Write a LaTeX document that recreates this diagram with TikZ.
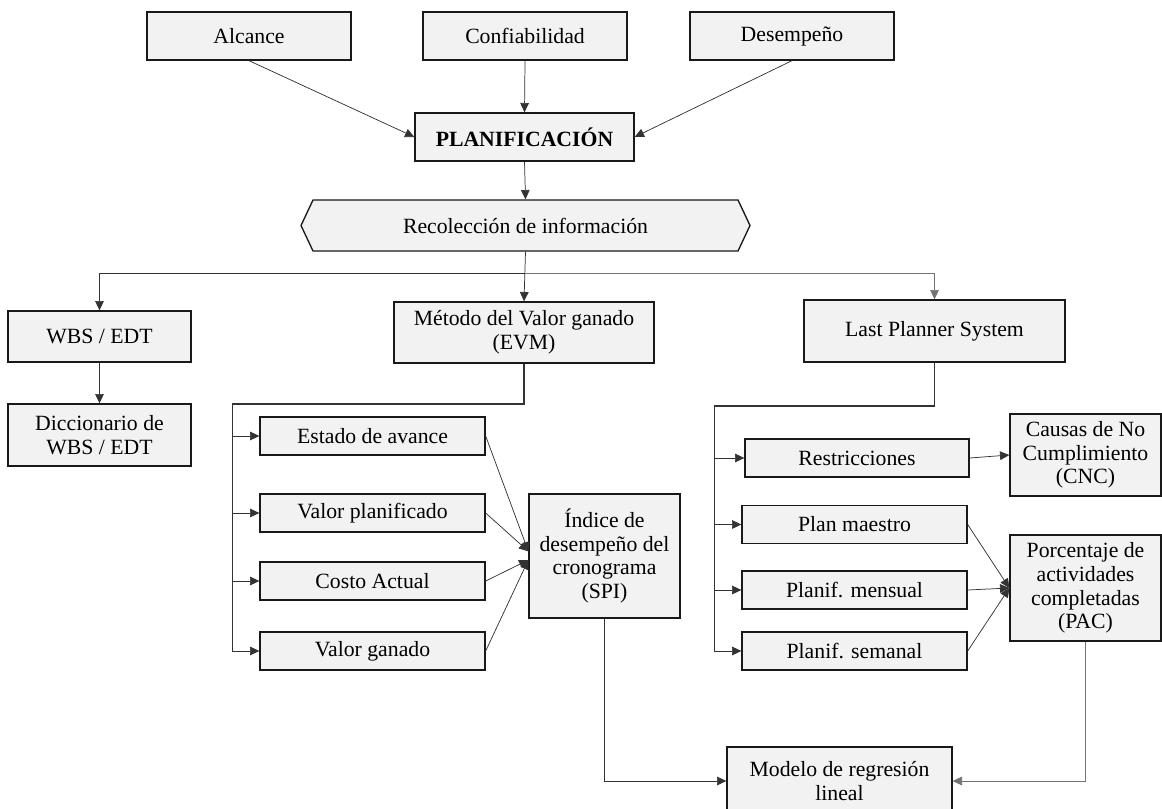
\documentclass[tikz,border=0pt]{standalone}
\usepackage{fontspec}
\setmainfont{Liberation Serif}
\usepackage{tikz}
\usetikzlibrary{arrows.meta}

\begin{document}
\begin{tikzpicture}[x=0.75pt,y=-0.75pt,
    caja/.style={draw=black!90,line width=1pt,fill=black!5,align=center,inner sep=2pt,
      font=\fontsize{16.3pt}{17.8pt}\selectfont},
    flecha/.style={draw=black!80,line width=0.55pt,-{Triangle[length=7pt,width=6.5pt]}},
    linea/.style={draw=black!80,line width=0.55pt}]
    \useasboundingbox (0,0) rectangle (1162,809);
    \node[caja,minimum width=153pt,minimum height=36pt] (alc) at (249,36) {Alcance};
    \node[caja,minimum width=153pt,minimum height=36pt] (conf) at (525,36) {Confiabilidad};
    \node[caja,minimum width=153pt,minimum height=36pt] (des) at (792,36) {Desempeño};
    \node[caja,minimum width=164.25pt,minimum height=36pt] (plan) at (524.5,137) {\textbf{PLANIFICACIÓN}};
    \fill[black!5] (301,225.5) -- (313,200) -- (738,200) -- (750,225.5) -- (738,251) -- (313,251) -- cycle;
    \draw[draw=black!90,line width=1pt] (301,225.5) -- (313,200) -- (738,200) -- (750,225.5) -- (738,251) -- (313,251) -- cycle;
    \node[caja,draw=none,fill=none,minimum width=336.75pt,minimum height=38.25pt] (rec) at (525.5,225.5) {Recolección de información};
    \node[caja,minimum width=137.25pt,minimum height=38.25pt] (wbs) at (99.5,336.5) {WBS / EDT};
    \node[caja,minimum width=137.25pt,minimum height=46.5pt] (dicc) at (99.5,435) {Diccionario de\\WBS / EDT};
    \node[caja,minimum width=195pt,minimum height=45.75pt] (evm) at (524,332.5) {Método del Valor ganado\\(EVM)};
    \node[caja,minimum width=195.75pt,minimum height=46.5pt] (lps) at (934.5,331) {Last Planner System};
    \node[caja,minimum width=168.75pt,minimum height=28.5pt] (est) at (372.5,436) {Estado de avance};
    \node[caja,minimum width=168.75pt,minimum height=28.5pt] (vpl) at (372.5,513) {Valor planificado};
    \node[caja,minimum width=168.75pt,minimum height=28.5pt] (cac) at (372.5,581) {Costo Actual};
    \node[caja,minimum width=168.75pt,minimum height=28.5pt] (vga) at (372.5,651) {Valor ganado};
    \node[caja,minimum width=113.25pt,minimum height=93pt] (spi) at (604.5,556) {Índice de\\desempeño del\\cronograma\\(SPI)};
    \node[caja,minimum width=168pt,minimum height=28.5pt] (res) at (857,458) {Restricciones};
    \node[caja,minimum width=113.25pt,minimum height=61.5pt] (cnc) at (1085.5,455) {Causas de No\\Cumplimiento\\(CNC)};
    \node[caja,minimum width=168.75pt,minimum height=28.5pt] (pma) at (854.5,524.5) {Plan maestro};
    \node[caja,minimum width=168.75pt,minimum height=28.5pt] (pme) at (854.5,590) {Planif. mensual};
    \node[caja,minimum width=168.75pt,minimum height=28.5pt] (pse) at (854.5,651) {Planif. semanal};
    \node[caja,minimum width=113.25pt,minimum height=79.5pt] (pac) at (1085.5,588) {Porcentaje de\\actividades\\completadas\\(PAC)};
    \node[caja,minimum width=168.75pt,minimum height=51pt] (mod) at (839.5,781) {Modelo de regresión\\lineal};
    \coordinate (split) at (525,273);
    \coordinate (evmbus) at (232,404);
    \coordinate (lpsbus) at (714,406);
    \draw[flecha] (alc.south) -- (plan.west);
    \draw[flecha] (conf.south) -- (plan.north);
    \draw[flecha] (des.south) -- (plan.east);
    \draw[flecha] (plan.south) -- (rec.north);
    \draw[flecha] (rec.south) -- (evm.north);
    \draw[flecha] (split) -| (wbs.north);
    \draw[flecha,draw=black!55] (split) -| (lps.north);
    \draw[flecha] (wbs.south) -- (dicc.north);
    \draw[linea,line width=1pt] (evm.south) |- (evmbus);
    \draw[flecha] (evmbus) |- (vga.west);
    \foreach \n in {est,vpl,cac}
      \draw[flecha] (evmbus |- \n.west) -- (\n.west);
    \draw[flecha] (est.east) -- ([yshift=3.5pt]spi.west);
    \draw[flecha] (vpl.east) -- ([yshift=3.5pt]spi.west);
    \draw[flecha] (cac.east) -- ([yshift=-3pt]spi.west);
    \draw[flecha] (vga.east) -- ([yshift=-3pt]spi.west);
    \draw[linea,line width=1pt] (lps.south) |- (lpsbus);
    \draw[flecha] (lpsbus) |- (pse.west);
    \foreach \n in {res,pma,pme}
      \draw[flecha] (lpsbus |- \n.west) -- (\n.west);
    \draw[flecha] (res.east) -- (cnc.west);
    \foreach \n in {pma,pme,pse}
      \draw[flecha] (\n.east) -- (pac.west);
    \draw[flecha] (spi.south) |- (mod.west);
    \draw[flecha,draw=black!55] (pac.south) |- (mod.east);
\end{tikzpicture}
\end{document}
